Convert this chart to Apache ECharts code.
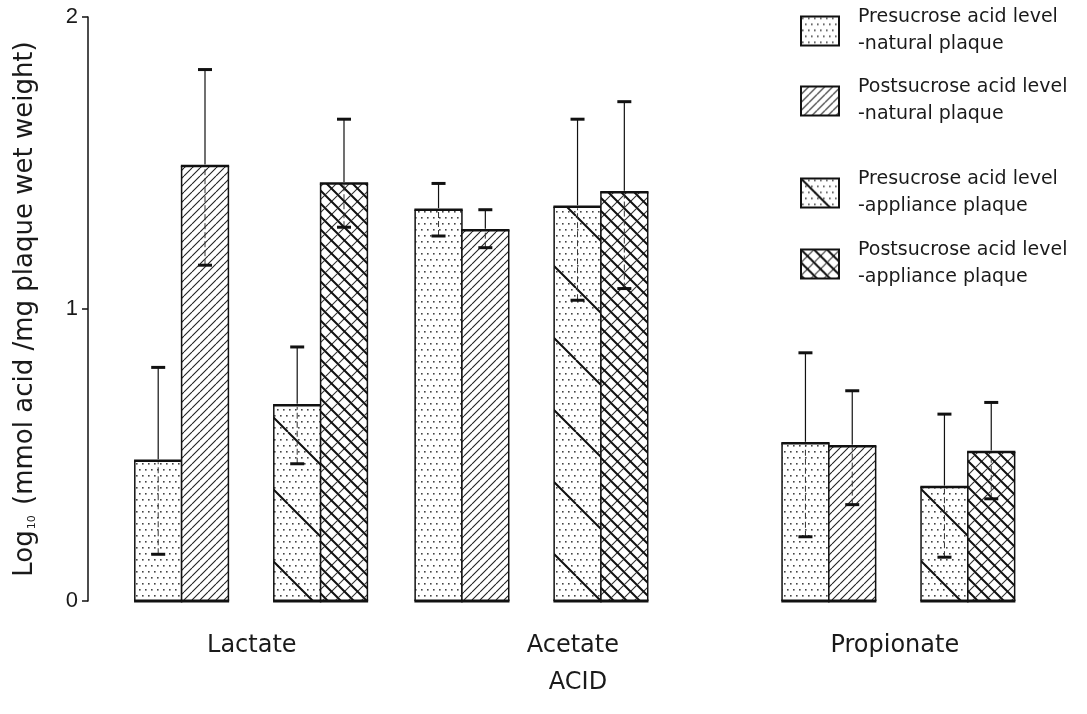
<!DOCTYPE html>
<html><head><meta charset="utf-8">
<script src="https://cdn.jsdelivr.net/npm/echarts@6/dist/echarts.min.js"></script>
<style>html,body{margin:0;padding:0;background:#fff}#c{width:1087px;height:714px}</style>
</head><body><div id="c"></div>
<script>
// ---------- data ----------
const categories = ['Lactate', 'Acetate', 'Propionate'];
const seriesNames = [
  'Presucrose acid level\n-natural plaque',
  'Postsucrose acid level\n-natural plaque',
  'Presucrose acid level\n-appliance plaque',
  'Postsucrose acid level\n-appliance plaque'
];
const preNaturalMean   = [0.48, 1.34, 0.54];
const preNaturalLow    = [0.16, 1.25, 0.22];
const preNaturalHigh   = [0.80, 1.43, 0.85];
const postNaturalMean  = [1.49, 1.27, 0.53];
const postNaturalLow   = [1.15, 1.21, 0.33];
const postNaturalHigh  = [1.82, 1.34, 0.72];
const preApplMean      = [0.67, 1.35, 0.39];
const preApplLow       = [0.47, 1.03, 0.15];
const preApplHigh      = [0.87, 1.65, 0.64];
const postApplMean     = [1.43, 1.40, 0.51];
const postApplLow      = [1.28, 1.07, 0.35];
const postApplHigh     = [1.65, 1.71, 0.68];
const yTicks = [0, 1, 2];

// ---------- layout (x axis in bar-width units) ----------
const layout = {
  groupStart: [1.0, 6.99, 14.83],
  seriesShift: [0, 1, 2.97, 3.97],
  labelPos: [3.50, 10.36, 17.24],
  xMax: 20.94,
  legendTop: [4, 74, 166, 237]
};

// ---------- patterns ----------
function cv(w, h) { const c = document.createElement('canvas'); c.width = w; c.height = h; const ctx = c.getContext('2d'); ctx.fillStyle = '#fff'; ctx.fillRect(0, 0, w, h); return [c, ctx]; }
function dotGrid(ctx, w, h, step, color) {
  ctx.fillStyle = color;
  let r = 0;
  for (let y = 1; y < h; y += step, r++) {
    const off = (r % 2) * step / 2;
    for (let x = 1 + off; x < w; x += step) ctx.fillRect(Math.round(x), y, 1.6, 1.6);
  }
}
function slash(ctx, s, width, color) { // "/"
  ctx.strokeStyle = color; ctx.lineWidth = width; ctx.beginPath();
  for (let k = -1; k <= 1; k++) { ctx.moveTo(k * s, s); ctx.lineTo(k * s + s, 0); }
  ctx.stroke();
}
function backslash(ctx, s, width, color) { // "\"
  ctx.strokeStyle = color; ctx.lineWidth = width; ctx.beginPath();
  for (let k = -1; k <= 1; k++) { ctx.moveTo(k * s, 0); ctx.lineTo(k * s + s, s); }
  ctx.stroke();
}
function pat(c) { return { type: 'pattern', image: c, repeat: 'repeat' }; }
const patterns = (function () {
  const out = [];
  let [c1, x1] = cv(12, 12); dotGrid(x1, 12, 12, 6, '#444'); out.push(pat(c1));
  let [c2, x2] = cv(8, 8); slash(x2, 8, 1.1, '#222'); out.push(pat(c2));
  let [c3, x3] = cv(72, 72); dotGrid(x3, 72, 72, 6, '#444'); backslash(x3, 72, 2, '#111'); out.push(pat(c3));
  let [c4, x4] = cv(13, 13); slash(x4, 13, 1.1, '#333'); backslash(x4, 13, 2, '#111'); out.push(pat(c4));
  return out;
})();

// ---------- build series ----------
const means = [preNaturalMean, postNaturalMean, preApplMean, postApplMean];
const lows = [preNaturalLow, postNaturalLow, preApplLow, postApplLow];
const highs = [preNaturalHigh, postNaturalHigh, preApplHigh, postApplHigh];

function renderBar(si) {
  return function (params, api) {
    const x0 = api.value(0), m = api.value(1), lo = api.value(2), hi = api.value(3);
    const bl = api.coord([x0, 0]), tr = api.coord([x0 + 1, m]);
    const left = bl[0], right = tr[0], bottom = bl[1], top = tr[1];
    const cx = (left + right) / 2;
    const yLo = api.coord([x0, lo])[1], yHi = api.coord([x0, hi])[1];
    const ink = '#111';
    return {
      type: 'group',
      children: [
        { type: 'rect', shape: { x: left, y: top, width: right - left, height: bottom - top }, style: { fill: patterns[si] } },
        { type: 'line', shape: { x1: left, y1: top, x2: left, y2: bottom }, style: { stroke: ink, lineWidth: 1.5 } },
        { type: 'line', shape: { x1: right, y1: top, x2: right, y2: bottom }, style: { stroke: ink, lineWidth: 1.5 } },
        { type: 'line', shape: { x1: left - 0.75, y1: top, x2: right + 0.75, y2: top }, style: { stroke: ink, lineWidth: 2.5 } },
        { type: 'line', shape: { x1: left - 0.75, y1: bottom, x2: right + 0.75, y2: bottom }, style: { stroke: ink, lineWidth: 3 } },
        { type: 'line', shape: { x1: cx, y1: top - 1.5, x2: cx, y2: yHi }, style: { stroke: ink, lineWidth: 1.2 } },
        { type: 'line', shape: { x1: cx, y1: yLo, x2: cx, y2: top + 1.5 }, style: { stroke: '#333', lineWidth: 1, lineDash: [6, 3] } },
        { type: 'line', shape: { x1: cx - 7, y1: yHi, x2: cx + 7, y2: yHi }, style: { stroke: ink, lineWidth: 3 } },
        { type: 'line', shape: { x1: cx - 7, y1: yLo, x2: cx + 7, y2: yLo }, style: { stroke: ink, lineWidth: 3 } }
      ]
    };
  };
}

const series = seriesNames.map(function (name, si) {
  return {
    type: 'custom',
    name: name,
    renderItem: renderBar(si),
    encode: { x: 0, y: [1, 2, 3] },
    itemStyle: { color: patterns[si] },
    z: 2,
    data: categories.map(function (c, ci) {
      return [layout.groupStart[ci] + layout.seriesShift[si], means[si][ci], lows[si][ci], highs[si][ci]];
    })
  };
});

const legends = seriesNames.map(function (name, si) {
  return {
    left: 800, top: layout.legendTop[si], padding: 0, orient: 'vertical',
    selectedMode: false,
    itemWidth: 38, itemHeight: 29,
    data: [{ name: name, icon: 'rect', itemStyle: { color: patterns[si], borderColor: '#111', borderWidth: 2 } }],
    textStyle: { fontFamily: 'DejaVu Sans', fontSize: 19, lineHeight: 27, color: '#1a1a1a', padding: [0, 0, 0, 14] }
  };
});

const chart = echarts.init(document.getElementById('c'), null, { renderer: 'canvas' });
chart.setOption({
  backgroundColor: '#fff',
  animation: false,
  grid: { left: 88, right: 19, top: 17, bottom: 113 },
  legend: legends,
  xAxis: {
    type: 'value', min: 0, max: layout.xMax,
    name: 'ACID', nameLocation: 'middle', nameGap: 70,
    nameTextStyle: { fontFamily: 'DejaVu Sans', fontSize: 24, color: '#1a1a1a' },
    axisLine: { show: false }, axisTick: { show: false }, splitLine: { show: false },
    axisLabel: {
      customValues: layout.labelPos, margin: 33,
      fontFamily: 'DejaVu Sans', fontSize: 24, color: '#1a1a1a',
      formatter: function (v) {
        let best = 0;
        layout.labelPos.forEach(function (p, i) { if (Math.abs(p - v) < Math.abs(layout.labelPos[best] - v)) best = i; });
        return categories[best];
      }
    }
  },
  yAxis: {
    type: 'value', min: yTicks[0], max: yTicks[yTicks.length - 1], interval: 1,
    name: 'Log{sub|10} (mmol acid /mg plaque wet weight)',
    nameLocation: 'middle', nameRotate: 90, nameGap: 50,
    nameTextStyle: { fontFamily: 'DejaVu Sans', fontSize: 26, color: '#1a1a1a',
      rich: { sub: { fontFamily: 'DejaVu Sans', fontSize: 11, color: '#1a1a1a', verticalAlign: 'bottom', padding: [8, 2, 0, 1] } } },
    axisLine: { show: true, lineStyle: { color: '#111', width: 1.5 } },
    axisTick: { show: true, length: 6, lineStyle: { color: '#111', width: 1.5 } },
    axisLabel: { fontFamily: 'Liberation Sans', fontSize: 22, color: '#1a1a1a', margin: 10 },
    splitLine: { show: false }
  },
  series: series
});
</script>
</body></html>
